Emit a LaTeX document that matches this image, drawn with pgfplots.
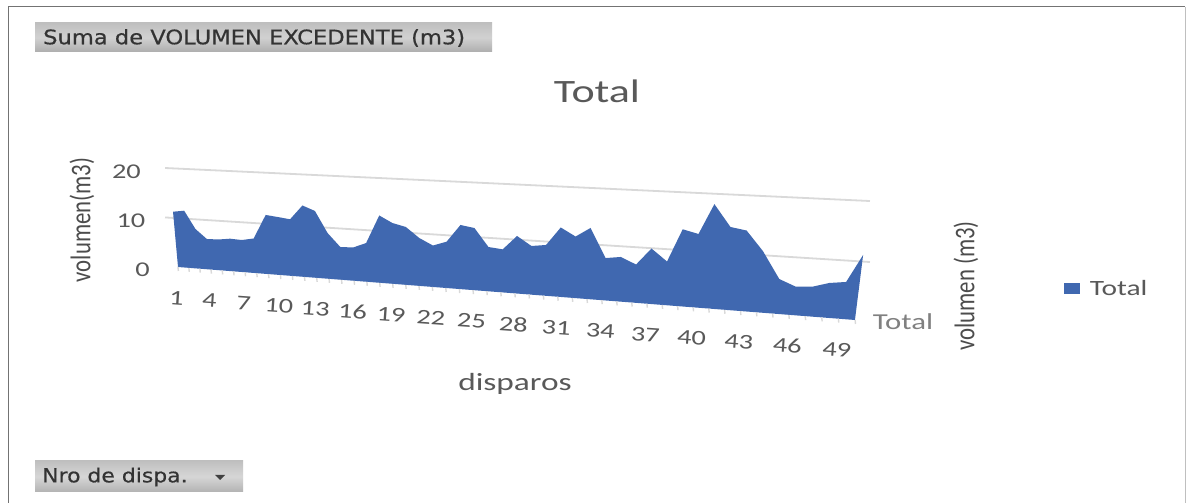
\documentclass[border=0pt]{standalone}
\usepackage{fontspec}
\usepackage{pgfplots}
\pgfplotsset{compat=1.18}
\setmainfont{Carlito}
\newfontfamily\widefont[FakeStretch=1.35]{Carlito}
\newfontfamily\narrowfont[FakeStretch=0.8]{Carlito}
\newfontfamily\buttonfont[FakeStretch=1.13,FakeBold=0.5]{DejaVu Sans}
\definecolor{areablue}{HTML}{4068B0}
\definecolor{labelgrey}{HTML}{595959}
\definecolor{gridgrey}{HTML}{D9D9D9}

% Excedent volume per blast, as drawn on the receding category axis
\pgfplotstableread{
disparo volumen
1.45 0
1 9.63
2 9.96
3 6.91
4 5.31
5 5.38
6 5.68
7 5.61
8 6.04
9 10.33
10 10.14
11 9.91
12 12.50
13 11.71
14 8.02
15 5.74
16 5.83
17 6.79
18 11.80
19 10.66
20 10.15
21 8.40
22 7.27
23 8.13
24 11.25
25 10.91
26 7.77
27 7.56
28 10.10
29 8.54
30 8.92
31 12.19
32 10.81
33 12.51
34 7.44
35 7.84
36 6.73
37 9.75
38 7.68
39 13.55
40 12.94
41 18.40
42 14.61
43 14.21
44 10.84
45 6.15
46 5.03
47 5.26
48 6.14
49 6.55
50 11.52
49.52 0
}\volumen

\pgfplotsset{
  receding/.style={
    disabledatascaling,
    anchor=origin,
    x={(1pt,-0.0783pt)},
    xmin=1, xmax=50, ymin=0, ymax=20,
    clip=false,
  },
}

\begin{document}
\begin{tikzpicture}
  \path[use as bounding box] (0pt,0pt) rectangle (1186pt,503pt);
  \fill[white] (0pt,0pt) rectangle (1186pt,503pt);

  % Chart frame
  \draw[black!55,line width=1pt] (8pt,0pt) -- (8pt,496pt) -- (1185pt,496pt);
  \draw[black!25,line width=1pt] (1185pt,496pt) -- (1185pt,0pt);

  % Pivot field buttons
  \shade[top color=black!25,bottom color=black!32,middle color=black!18]
    (35pt,451pt) rectangle (492pt,480pt);
  \node[anchor=west,font=\buttonfont\fontsize{20}{22}\selectfont,text=black!80,inner sep=0pt]
    at (43pt,465pt) {Suma de VOLUMEN EXCEDENTE (m3)};
  \shade[top color=black!25,bottom color=black!30,middle color=black!16]
    (35pt,11pt) rectangle (243pt,42pt);
  \node[anchor=west,font=\buttonfont\fontsize{19.4}{21}\selectfont,text=black!80,inner sep=0pt]
    at (42pt,26pt) {Nro de dispa.};
  \fill[black!75] (215pt,28pt) -- (225pt,28pt) -- (220pt,23pt) -- cycle;

  % Titles and axis captions
  \node[font=\widefont\fontsize{32.6}{36}\selectfont,text=labelgrey] at (597pt,412pt) {Total};
  \node[font=\narrowfont\fontsize{28.5}{30}\selectfont,text=black!70,rotate=90] at (82pt,283pt) {volumen(m3)};
  \node[font=\narrowfont\fontsize{28.5}{30}\selectfont,text=black!70,rotate=90] at (966pt,217pt) {volumen (m3)};
  \node[font=\widefont\fontsize{24.7}{27}\selectfont,text=labelgrey] at (515pt,119pt) {disparos};
  \node[font=\widefont\fontsize{22.8}{25}\selectfont,text=black!50] at (903pt,181pt) {Total};

  % Gridlines, filled area and legend
  \begin{axis}[
    receding,
    at={(173pt,236.39pt)},
    y={(0pt,5.7pt)},
    x coord trafo/.code={\pgfmathparse{173+11.095*(#1-1)+0.061*(#1-1)*(#1-1)}},
    hide axis,
    legend style={
      at={(axis cs:61.3,8.43)}, anchor=west, draw=none, fill=none,
      font=\widefont\fontsize{21.8}{24}\selectfont, text=labelgrey,
      inner sep=0pt, outer sep=0pt,
    },
    legend image code/.code={
      \fill[#1] (0pt,-5.5pt) rectangle (16pt,5.5pt);
      \path (24pt,0pt);
    },
  ]
    \addplot[gridgrey,line width=1.8pt,forget plot] coordinates {(0.28,17.19) (50.4,21.08)};
    \addplot[gridgrey,line width=1.8pt,forget plot] coordinates {(0.28,8.52) (50.4,10.38)};
    \addplot[fill=areablue,draw=none] table[x=disparo,y=volumen] {\volumen} -- cycle;
    \addlegendentry{Total}
  \end{axis}

  % Category ticks along the base and value labels at the left
  \begin{axis}[
    receding,
    at={(178pt,236pt)},
    y={(-0.45pt,4.9pt)},
    x coord trafo/.code={\pgfmathparse{178+10.83*(#1-1)+0.061*(#1-1)*(#1-1)}},
    axis x line*=bottom,
    axis y line*=left,
    axis line style={draw=none},
    xtick={1,4,7,10,13,16,19,22,25,28,31,34,37,40,43,46,49},
    xticklabels={1,4,7,10,13,16,19,22,25,28,31,34,37,40,43,46,49},
    minor xtick={2,3,5,6,8,9,11,12,14,15,17,18,20,21,23,24,26,27,29,30,32,33,35,36,38,39,41,42,44,45,47,48,50},
    tick align=outside,
    major tick length=4pt,
    minor tick length=4pt,
    xtick style={gridgrey,line width=1.4pt},
    minor x tick style={gridgrey,line width=1.4pt},
    ytick={0,10,20},
    yticklabels={0,10,20},
    ytick style={draw=none},
    xticklabel style={
      font=\widefont\fontsize{21}{23}\selectfont, text=labelgrey,
      anchor=center, rotate=-4, yshift=-27pt, inner sep=0pt,
    },
    yticklabel style={
      font=\widefont\fontsize{21}{23}\selectfont, text=labelgrey,
      anchor=east, xshift=-24pt, yshift=-3pt, inner sep=0pt,
    },
  ]
    \addplot[draw=none,forget plot] coordinates {(1,0) (50,0)};
  \end{axis}
\end{tikzpicture}
\end{document}
